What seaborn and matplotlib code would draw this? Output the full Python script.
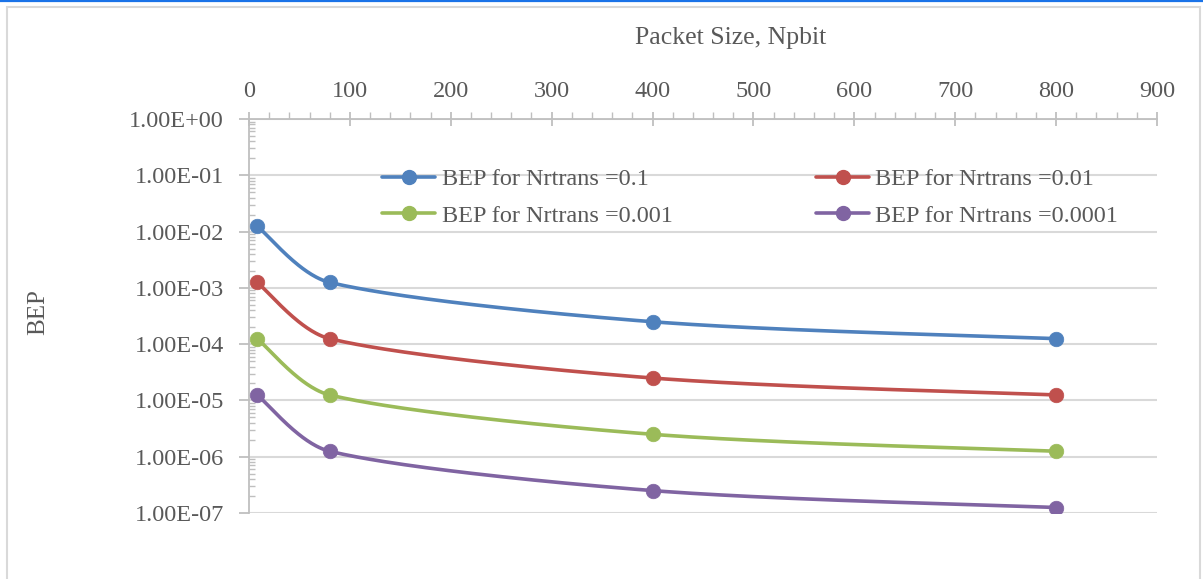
import numpy as np
import pandas as pd
import matplotlib
matplotlib.use("Agg")
import matplotlib.pyplot as plt
import seaborn as sns
from matplotlib.lines import Line2D
from matplotlib.patches import Rectangle
from matplotlib.ticker import FixedLocator, MultipleLocator, LogLocator, NullFormatter, FuncFormatter

# Packet sizes (bits) and bit error probability for each retransmission rate
packet_size = [8, 80, 400, 800]
bep_nr_0_1 = [1.25e-2, 1.25e-3, 2.5e-4, 1.25e-4]
bep_nr_0_01 = [1.25e-3, 1.25e-4, 2.5e-5, 1.25e-5]
bep_nr_0_001 = [1.25e-4, 1.25e-5, 2.5e-6, 1.25e-6]
bep_nr_0_0001 = [1.25e-5, 1.25e-6, 2.5e-7, 1.25e-7]

series_labels = [
    "BEP for Nrtrans =0.1",
    "BEP for Nrtrans =0.01",
    "BEP for Nrtrans =0.001",
    "BEP for Nrtrans =0.0001",
]
series_values = [bep_nr_0_1, bep_nr_0_01, bep_nr_0_001, bep_nr_0_0001]
series_colors = ["#4F81BD", "#C0504D", "#9BBB59", "#8064A2"]

x_ticks = [0, 100, 200, 300, 400, 500, 600, 700, 800, 900]
y_ticks = [1e0, 1e-1, 1e-2, 1e-3, 1e-4, 1e-5, 1e-6, 1e-7]

x_title = "Packet Size, Npbit"
y_title = "BEP"

W, H = 1203, 579
TEXT = "#595959"
AXIS = "#BFBFBF"
GRID = "#D9D9D9"
FS = 17.5

# plot box in pixels
AX_L, AX_R, AX_T, AX_B = 249, 1157, 119, 513
PX_PER_X = (AX_R - AX_L) / 900.0
PX_PER_DEC = (AX_B - AX_T) / 7.0


def smooth_curve(xs, ys, n=60):
    """Bezier smoothing through the points, built in screen-proportional space."""
    P = np.column_stack([np.asarray(xs, float) * PX_PER_X,
                         np.log10(ys) * PX_PER_DEC])
    out = []
    t = np.linspace(0, 1, n)[:, None]
    for i in range(len(P) - 1):
        p0 = P[max(i - 1, 0)]
        p1 = P[i]
        p2 = P[i + 1]
        p3 = P[min(i + 2, len(P) - 1)]
        chord = np.linalg.norm(p2 - p1)
        t1 = (p2 - p0) / 6.0
        t2 = (p3 - p1) / 6.0
        lim = chord / 3.0
        if np.linalg.norm(t1) > lim:
            t1 = t1 / np.linalg.norm(t1) * lim
        if np.linalg.norm(t2) > lim:
            t2 = t2 / np.linalg.norm(t2) * lim
        c1 = p1 + t1
        c2 = p2 - t2
        seg = (1 - t) ** 3 * p1 + 3 * (1 - t) ** 2 * t * c1 + 3 * (1 - t) * t ** 2 * c2 + t ** 3 * p2
        out.append(seg if i == 0 else seg[1:])
    pts = np.vstack(out)
    return pts[:, 0] / PX_PER_X, 10 ** (pts[:, 1] / PX_PER_DEC)


sns.set_theme(style="white")
plt.rcParams["font.family"] = ["Liberation Serif", "DejaVu Serif"]

fig = plt.figure(figsize=(W / 100, H / 100), dpi=100)
ax = fig.add_axes([AX_L / W, 1 - AX_B / H, (AX_R - AX_L) / W, (AX_B - AX_T) / H])

for label, vals, color in zip(series_labels, series_values, series_colors):
    sx, sy = smooth_curve(packet_size, vals)
    curve = pd.DataFrame({"x": sx, "y": sy})
    sns.lineplot(data=curve, x="x", y="y", sort=False, estimator=None,
                 color=color, linewidth=2.6, ax=ax, zorder=3)
    pts = pd.DataFrame({"x": packet_size, "y": vals})
    sns.scatterplot(data=pts, x="x", y="y", color=color, s=110,
                    edgecolor=color, linewidth=0.5, ax=ax, zorder=4)

ax.set_yscale("log")
ax.set_xlim(0, 900)
ax.set_ylim(1e-7, 1e0)
ax.set_xlabel("")
ax.set_ylabel("")

# x axis on top
ax.xaxis.tick_top()
ax.xaxis.set_major_locator(FixedLocator(x_ticks))
ax.xaxis.set_minor_locator(MultipleLocator(20))
ax.tick_params(axis="x", which="major", direction="inout", length=10, width=1.3,
               color=AXIS, labelsize=FS, labelcolor=TEXT, pad=7,
               top=True, bottom=False)
ax.tick_params(axis="x", which="minor", direction="out", length=5, width=1.0,
               color=AXIS, top=True, bottom=False)

ax.yaxis.set_major_locator(FixedLocator(y_ticks))
ax.yaxis.set_minor_locator(LogLocator(base=10, subs=np.arange(2, 10), numticks=20))
ax.yaxis.set_minor_formatter(NullFormatter())
ax.yaxis.set_major_formatter(FuncFormatter(lambda v, _: f"{v:.2E}"))
ax.tick_params(axis="y", which="major", direction="out", length=7, width=1.3,
               color=AXIS, labelsize=FS, labelcolor=TEXT, pad=11, left=True)
ax.tick_params(axis="y", which="minor", direction="in", length=4, width=1.0,
               color=AXIS, left=True)

ax.yaxis.grid(True, which="major", color=GRID, linewidth=1.5)
ax.xaxis.grid(False)
for side in ["bottom", "right"]:
    ax.spines[side].set_visible(False)
for side in ["top", "left"]:
    ax.spines[side].set_color(AXIS)
    ax.spines[side].set_linewidth(1.3)
ax.set_facecolor("white")

fig.text(731 / W, 1 - 38 / H, x_title, ha="center", va="center",
         fontsize=18.5, color=TEXT)
fig.text(38 / W, 1 - 312 / H, y_title, ha="center", va="center",
         rotation=90, fontsize=18, color=TEXT)

# legend: two columns
order = [0, 2, 1, 3]
handles = [Line2D([0], [0], color=series_colors[i], lw=2.6, marker="o",
                  markersize=10, markeredgecolor=series_colors[i])
           for i in order]
labels = [series_labels[i] for i in order]
leg = ax.legend(handles, labels, ncol=2, frameon=False, fontsize=FS,
                loc="upper left", bbox_to_anchor=(382 / W, 1 - 168 / H),
                bbox_transform=fig.transFigure, borderpad=0, borderaxespad=0,
                handlelength=2.2, handletextpad=0.25, columnspacing=5.9,
                labelspacing=0.6)
for txt in leg.get_texts():
    txt.set_color(TEXT)

# outer frame and top accent line
fig.add_artist(Rectangle((7 / W, -0.05), (1200 - 7) / W, (H - 7) / H + 0.05,
                         transform=fig.transFigure, fill=False,
                         edgecolor=GRID, linewidth=1.5))
fig.add_artist(Line2D([0, 1], [1 - 1 / H, 1 - 1 / H], transform=fig.transFigure,
                      color="#1A73E8", linewidth=1.6))

fig.savefig("out.png", dpi=100, facecolor="white")
